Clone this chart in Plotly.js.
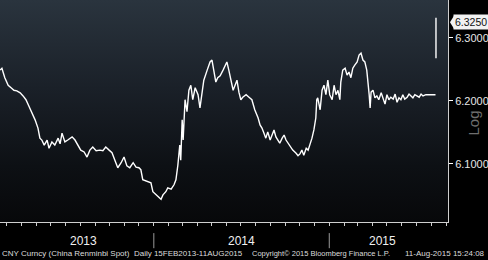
<!DOCTYPE html>
<html>
<head>
<meta charset="utf-8">
<script src="https://cdn.plot.ly/plotly-3.0.1.min.js"></script>
<style>
  html, body { margin: 0; padding: 0; background: #000; }
  #wrap { position: relative; width: 488px; height: 260px; background: #000; overflow: hidden; }
  #grad { position: absolute; left: 0; top: 0; width: 448px; height: 222px;
          background: linear-gradient(to bottom, #2a343e 0%, #1a2028 40%, #0d1014 75%, #07080a 100%); }
  #chart { position: absolute; left: 0; top: 0; width: 488px; height: 260px; }
</style>
</head>
<body>
<div id="wrap"><div id="grad"></div><div id="chart"></div></div>
<script>
// CNY Curncy (China Renminbi Spot), daily 15FEB2013 - 11AUG2015
const dates = [
 "2013-02-15","2013-02-19","2013-02-25","2013-03-04","2013-03-10","2013-03-16","2013-03-22","2013-03-29",
 "2013-04-04","2013-04-10","2013-04-16","2013-04-23","2013-04-29","2013-05-05","2013-05-09","2013-05-13",
 "2013-05-18","2013-05-24","2013-05-28","2013-06-03","2013-06-09","2013-06-16","2013-06-20","2013-06-24",
 "2013-06-30","2013-07-06","2013-07-15","2013-07-21","2013-07-27","2013-08-02","2013-08-09","2013-08-15",
 "2013-08-21","2013-08-27","2013-09-03","2013-09-11","2013-09-17","2013-09-23","2013-09-30","2013-10-06",
 "2013-10-12","2013-10-18","2013-10-25","2013-10-31","2013-11-06","2013-11-12","2013-11-19","2013-11-25",
 "2013-12-01","2013-12-05","2013-12-09","2013-12-16","2013-12-22","2013-12-26","2013-12-30","2014-01-05",
 "2014-01-12","2014-01-16","2014-01-20","2014-01-26","2014-01-30","2014-02-06","2014-02-12","2014-02-16",
 "2014-02-20","2014-02-24","2014-02-26","2014-03-01","2014-03-03","2014-03-07","2014-03-11","2014-03-15",
 "2014-03-19","2014-03-23","2014-03-28","2014-04-03","2014-04-07","2014-04-11","2014-04-15","2014-04-22",
 "2014-04-28","2014-05-02","2014-05-06","2014-05-10","2014-05-14","2014-05-19","2014-05-25","2014-05-29",
 "2014-06-02","2014-06-06","2014-06-10","2014-06-15","2014-06-19","2014-06-23","2014-06-27","2014-07-01",
 "2014-07-05","2014-07-12","2014-07-18","2014-07-24","2014-07-30","2014-08-06","2014-08-10","2014-08-14",
 "2014-08-18","2014-08-22","2014-08-26","2014-08-31","2014-09-04","2014-09-08","2014-09-12","2014-09-16",
 "2014-09-20","2014-09-25","2014-09-29","2014-10-03","2014-10-07","2014-10-11","2014-10-17","2014-10-24",
 "2014-10-28","2014-11-01","2014-11-05","2014-11-09","2014-11-14","2014-11-18","2014-11-22","2014-11-26",
 "2014-11-30","2014-12-04","2014-12-06","2014-12-08","2014-12-13","2014-12-17","2014-12-21","2014-12-25",
 "2014-12-29","2015-01-02","2015-01-07","2015-01-11","2015-01-15","2015-01-19","2015-01-23","2015-01-25",
 "2015-01-29","2015-02-03","2015-02-07","2015-02-11","2015-02-15","2015-02-19","2015-02-23","2015-02-28",
 "2015-03-04","2015-03-08","2015-03-12","2015-03-16","2015-03-20","2015-03-23","2015-03-25","2015-03-27",
 "2015-03-29","2015-04-02","2015-04-06","2015-04-10","2015-04-14","2015-04-19","2015-04-23","2015-04-27",
 "2015-05-01","2015-05-05","2015-05-09","2015-05-14","2015-05-18","2015-05-22","2015-05-26","2015-05-30",
 "2015-06-03","2015-06-07","2015-06-12","2015-06-16","2015-06-20","2015-06-24","2015-06-28","2015-07-02",
 "2015-07-07","2015-07-11","2015-07-15","2015-07-21","2015-07-27","2015-08-03","2015-08-07","2015-08-10"
];
const spot = [
 6.249,6.252,6.237,6.225,6.221,6.217,6.216,6.213,
 6.208,6.202,6.192,6.181,6.170,6.157,6.141,6.138,
 6.130,6.138,6.125,6.135,6.130,6.141,6.132,6.149,
 6.135,6.138,6.143,6.138,6.130,6.122,6.119,6.111,
 6.122,6.127,6.121,6.122,6.121,6.127,6.122,6.118,
 6.106,6.094,6.102,6.111,6.097,6.094,6.102,6.095,
 6.094,6.091,6.075,6.073,6.071,6.070,6.056,6.052,
 6.048,6.044,6.051,6.056,6.062,6.060,6.067,6.075,
 6.098,6.130,6.106,6.170,6.138,6.202,6.183,6.217,
 6.225,6.202,6.221,6.210,6.189,6.210,6.233,6.249,
 6.262,6.265,6.246,6.230,6.237,6.240,6.249,6.257,
 6.262,6.249,6.233,6.217,6.225,6.233,6.214,6.202,
 6.206,6.210,6.206,6.202,6.186,6.173,6.162,6.157,
 6.149,6.141,6.151,6.138,6.146,6.154,6.143,6.138,
 6.133,6.141,6.146,6.138,6.133,6.129,6.122,6.117,
 6.113,6.116,6.122,6.114,6.125,6.122,6.130,6.141,
 6.154,6.173,6.202,6.205,6.186,6.217,6.225,6.210,
 6.233,6.210,6.202,6.225,6.210,6.217,6.202,6.230,
 6.249,6.252,6.241,6.246,6.237,6.252,6.257,6.262,
 6.273,6.276,6.265,6.262,6.249,6.230,6.210,6.189,
 6.214,6.217,6.205,6.208,6.202,6.213,6.205,6.195,
 6.210,6.202,6.206,6.203,6.211,6.198,6.205,6.202,
 6.210,6.203,6.206,6.211,6.208,6.205,6.210,6.208,
 6.206,6.211,6.208,6.210,6.210,6.210,6.210,6.210
];
// 11 Aug 2015 devaluation day: low / high
const lastDay = ["2015-08-11","2015-08-11"];
const lastDayRange = [6.268, 6.332];
const lastPrice = 6.3250;

const yTicks = [6.1, 6.2, 6.3];
const yTickText = ["6.1000", "6.2000", "6.3000"];
const yearLabels = ["2013", "2014", "2015"];
const yearLabelPos = ["2013-08-08", "2014-07-02", "2015-04-22"];
const yearBreaks = ["2014-01-01", "2015-01-01"];

const FONT = "Liberation Sans, Arial, sans-serif";

const traces = [
  { x: dates, y: spot, type: "scatter", mode: "lines",
    line: { color: "#ffffff", width: 1.4 }, hoverinfo: "skip" },
  { x: lastDay, y: lastDayRange, type: "scatter", mode: "lines",
    line: { color: "#ffffff", width: 1.4 }, hoverinfo: "skip" }
];

const shapes = yearBreaks.map(d => ({
  type: "line", xref: "x", yref: "paper", x0: d, x1: d, y0: -0.05, y1: -0.118,
  line: { color: "#9a9a9a", width: 1 }
}));
shapes.push({
  type: "path", xref: "paper", xsizemode: "pixel", xanchor: 1,
  yref: "y", ysizemode: "pixel", yanchor: lastPrice,
  path: "M 2,0 L 6,6.5 L 6,-6.5 Z", fillcolor: "#f2f2f2", line: { width: 0 }
});

const annotations = yearLabels.map((t, i) => ({
  text: t, x: yearLabelPos[i], xref: "x", y: -0.085, yref: "paper",
  showarrow: false, xanchor: "center", yanchor: "middle",
  font: { family: FONT, size: 12, color: "#f0f0f0" }
}));
annotations.push(
  { text: "6.3250", x: 1, xref: "paper", xanchor: "left", xshift: 5, y: lastPrice, yref: "y",
    yanchor: "middle", showarrow: false, bgcolor: "#f2f2f2", borderpad: 1,
    font: { family: FONT, size: 10.5, color: "#111111" } },
  { text: "Log", x: 1, xref: "paper", xanchor: "left", xshift: 15, y: 6.165, yref: "y",
    yanchor: "middle", showarrow: false, textangle: -90,
    font: { family: FONT, size: 15, color: "#6f6f6f" } },
  { text: "CNY Curncy (China Renminbi Spot)  Daily 15FEB2013-11AUG2015", x: 0, xref: "paper",
    xanchor: "left", y: -0.14, yref: "paper", yanchor: "middle", showarrow: false,
    font: { family: FONT, size: 8, color: "#dcdcdc" } },
  { text: "Copyright\u00a9 2015 Bloomberg Finance L.P.", x: 250/448, xref: "paper",
    xanchor: "left", y: -0.14, yref: "paper", yanchor: "middle", showarrow: false,
    font: { family: FONT, size: 7.5, color: "#dcdcdc" } },
  { text: "11-Aug-2015 15:24:08", x: 1, xref: "paper", xshift: 39,
    xanchor: "right", y: -0.14, yref: "paper", yanchor: "middle", showarrow: false,
    font: { family: FONT, size: 8, color: "#dcdcdc" } }
);

const layout = {
  width: 488, height: 260,
  margin: { l: 0, r: 40, t: 0, b: 38, pad: 0 },
  paper_bgcolor: "rgba(0,0,0,0)", plot_bgcolor: "rgba(0,0,0,0)",
  showlegend: false,
  xaxis: {
    type: "date", range: ["2013-02-15", "2015-09-05"],
    showline: true, linecolor: "#cfcfcf", linewidth: 1,
    ticks: "outside", ticklen: 3, tickcolor: "#cfcfcf", tick0: "2013-01-01", dtick: "M1",
    showticklabels: false, showgrid: false, zeroline: false, fixedrange: true
  },
  yaxis: {
    side: "right", range: [6.0079, 6.3603],
    showline: true, linecolor: "#cfcfcf", linewidth: 1,
    ticks: "outside", ticklen: 4, tickcolor: "#ffffff",
    tickvals: yTicks, ticktext: yTickText,
    tickfont: { family: FONT, size: 11, color: "#e6e6e6" },
    showgrid: false, zeroline: false, fixedrange: true
  },
  shapes: shapes,
  annotations: annotations
};

Plotly.newPlot("chart", traces, layout, { displayModeBar: false, staticPlot: true });
</script>
</body>
</html>
